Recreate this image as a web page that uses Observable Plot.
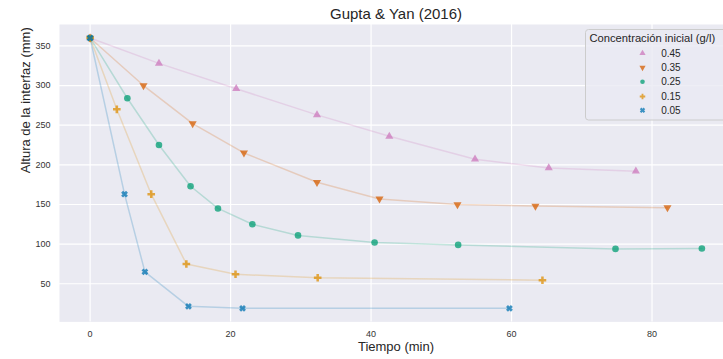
<!DOCTYPE html>
<html>
<head>
<meta charset="utf-8">
<script src="https://cdn.jsdelivr.net/npm/d3@7"></script>
<script src="https://cdn.jsdelivr.net/npm/@observablehq/plot@0.6"></script>
<style>
  html, body { margin: 0; padding: 0; background: #fff; overflow: hidden; }
  #wrap { position: relative; width: 723px; height: 359px; overflow: hidden; font-family: "Liberation Sans", Arial, sans-serif; }
  #wrap > svg:first-child { max-width: none !important; }
  #legend { position: absolute; left: 584.5px; top: 29px; }
</style>
</head>
<body>
<div id="wrap"></div>
<script>
// Settling tests: interface height (mm) vs time (min) for each initial concentration
const concentrations = ["0.45", "0.35", "0.25", "0.15", "0.05"];

const t045 = [0, 9.8, 20.8, 32.3, 42.6, 54.8, 65.3, 77.7];
const h045 = [360, 328, 296, 263, 236, 207, 196, 192];

const t035 = [0, 7.6, 14.6, 21.9, 32.3, 41.2, 52.3, 63.4, 82.2];
const h035 = [360, 300, 252, 215, 178, 157, 150, 148, 146];

const t025 = [0, 5.3, 9.8, 14.3, 18.2, 23.1, 29.6, 40.5, 52.4, 74.8, 87.1];
const h025 = [360, 284, 225, 173, 145, 125, 111, 102, 99, 94, 94.5];

const t015 = [0, 3.8, 8.7, 13.7, 20.7, 32.4, 64.4];
const h015 = [360, 270, 163, 75, 62, 57.5, 54.5];

const t005 = [0, 4.9, 7.8, 14.0, 21.7, 59.7];
const h005 = [360, 163, 65, 21.5, 19, 19];

const xTicks = [0, 20, 40, 60, 80];
const yTicks = [50, 100, 150, 200, 250, 300, 350];

const palette = ["#cc78bc", "#d55e00", "#029e73", "#de8f05", "#0173b2"];

// Custom filled marker shapes
const triangleDown = {
  draw(c, size) {
    const y = -Math.sqrt(size / (Math.sqrt(3) * 3));
    c.moveTo(0, -2 * y);
    c.lineTo(-Math.sqrt(3) * y, y);
    c.lineTo(Math.sqrt(3) * y, y);
    c.closePath();
  }
};
const filledX = {
  draw(c, size) {
    const a = Math.sqrt(size / 5) / 2 * 1.2; // half arm width
    const b = 2.5 * a;                       // arm reach
    const pts = [[-a, -b], [a, -b], [a, -a], [b, -a], [b, a], [a, a],
                 [a, b], [-a, b], [-a, a], [-b, a], [-b, -a], [-a, -a]];
    const k = Math.SQRT1_2;
    pts.forEach(([px, py], i) => {
      const rx = (px - py) * k, ry = (px + py) * k;
      i ? c.lineTo(rx, ry) : c.moveTo(rx, ry);
    });
    c.closePath();
  }
};

const series = [
  {key: concentrations[0], t: t045, h: h045, color: palette[0], symbol: d3.symbolTriangle, r: 3.0},
  {key: concentrations[1], t: t035, h: h035, color: palette[1], symbol: triangleDown, r: 3.0},
  {key: concentrations[2], t: t025, h: h025, color: palette[2], symbol: d3.symbolCircle, r: 3.3},
  {key: concentrations[3], t: t015, h: h015, color: palette[3], symbol: d3.symbolCross, r: 3.2},
  {key: concentrations[4], t: t005, h: h005, color: palette[4], symbol: filledX, r: 2.9}
];

const tables = series.map(s => s.t.map((t, i) => ({conc: s.key, t, h: s.h[i]})));

const lineMarks = series.map((s, i) =>
  Plot.line(tables[i], {x: "t", y: "h", stroke: s.color, strokeOpacity: 0.22, strokeWidth: 1.5})
);
const dotMarks = series.map((s, i) =>
  Plot.dot(tables[i], {x: "t", y: "h", symbol: s.symbol, r: s.r, fill: s.color, fillOpacity: 0.75, stroke: null})
);

const chart = Plot.plot({
  width: 732,
  height: 359,
  marginTop: 24,
  marginBottom: 37.6,
  marginLeft: 59,
  marginRight: 0,
  style: {fontFamily: "'Liberation Sans', Arial, sans-serif", fontSize: "9px", color: "#262626", background: "white", overflow: "visible", maxWidth: "none"},
  x: {domain: [-4.36, 91.46]},
  y: {domain: [1.9, 377]},
  marks: [
    Plot.frame({fill: "#eaeaf2", stroke: "none"}),
    Plot.gridX(xTicks, {stroke: "white", strokeOpacity: 1, strokeWidth: 1.2}),
    Plot.gridY(yTicks, {stroke: "white", strokeOpacity: 1, strokeWidth: 1.2}),
    Plot.axisX(xTicks, {tickSize: 0, tickPadding: 8.5, label: null, fill: "#333"}),
    Plot.axisY(yTicks, {tickSize: 0, tickPadding: 9, label: null, fill: "#333"}),
    ...lineMarks,
    ...dotMarks,
    Plot.text(["Tiempo (min)"], {text: d => d, frameAnchor: "bottom", lineAnchor: "middle", dy: 25.3, fontSize: 13, fill: "#262626"}),
    Plot.text(["Altura de la interfaz (mm)"], {text: d => d, frameAnchor: "left", lineAnchor: "middle", rotate: -90, dx: -34, fontSize: 13, fill: "#262626"}),
    Plot.text(["Gupta & Yan (2016)"], {text: d => d, frameAnchor: "top", lineAnchor: "middle", dy: -10, fontSize: 15, fill: "#262626"})
  ]
});

const wrap = document.getElementById("wrap");
wrap.appendChild(chart);

// Legend box in the upper-right corner of the plot area
const lg = d3.select(wrap).append("svg")
  .attr("id", "legend")
  .attr("width", 150)
  .attr("height", 93)
  .style("font-family", "'Liberation Sans', Arial, sans-serif");

lg.append("rect")
  .attr("x", 0.5).attr("y", 0.5)
  .attr("width", 170).attr("height", 90.5)
  .attr("rx", 3)
  .attr("fill", "#eaeaf2").attr("fill-opacity", 0.8)
  .attr("stroke", "#cccccc").attr("stroke-width", 1);

lg.append("text")
  .attr("x", 4.5).attr("y", 12.6)
  .attr("font-size", 11.2)
  .attr("fill", "#262626")
  .text("Concentración inicial (g/l)");

const rowY = [24.3, 38.6, 52.7, 67.5, 81.3];
series.forEach((s, i) => {
  const g = lg.append("g").attr("transform", `translate(0,${rowY[i]})`);
  g.append("path")
    .attr("transform", "translate(57.5,0)")
    .attr("d", d3.symbol().type(s.symbol).size(Math.PI * 2.3 * 2.3)())
    .attr("fill", s.color).attr("fill-opacity", 0.75);
  g.append("text")
    .attr("x", 76.2).attr("y", 0)
    .attr("dy", "0.35em")
    .attr("font-size", 10)
    .attr("fill", "#262626")
    .text(s.key);
});
</script>
</body>
</html>
